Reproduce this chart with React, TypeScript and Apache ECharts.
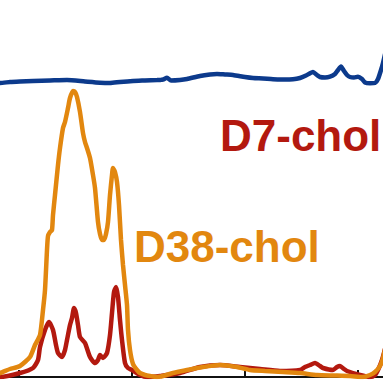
import React, { useEffect, useRef } from "react";
import * as echarts from "echarts";

// x: scan index, y: relative intensity (arbitrary units)
const xTicks = [0, 113, 226, 339, 452, 565];

const blueTrace: [number, number][] = [
  [89, 294], [94, 294], [104, 295], [114, 295.5], [127, 296], [144, 296.5], [161, 297],
  [179, 295.5], [194, 294.3], [204, 294], [214, 295], [227, 296], [239, 296.5], [251, 297],
  [257, 297.5], [261, 299.3], [265, 296.5], [274, 297], [281, 298], [294, 301], [304, 302.5],
  [311, 303], [319, 302.5], [327, 302], [339, 300], [347, 299], [357, 298.5], [367, 297.7],
  [377, 297.5], [387, 297.7], [394, 299], [400, 301.5], [407, 305], [411, 302], [414, 300],
  [419, 299.5], [424, 300.3], [429, 303], [432, 307], [435, 310.5], [438, 306], [441, 302],
  [444, 300], [448, 299.5], [452, 300.3], [456, 298], [459, 294.5], [464, 293.7], [469, 294],
  [472, 298], [475, 307], [477, 314], [480, 327],
];

const orangeTrace: [number, number][] = [
  [89, 3], [94, 4], [104, 8], [114, 11], [124, 20], [129, 32], [134, 42], [137, 67], [139, 87],
  [141, 127], [142, 141], [144, 145], [146, 147], [147, 162], [149, 182], [152, 212], [154, 229],
  [157, 249], [159, 255], [162, 269], [164, 279], [167, 286], [169, 285], [171, 280], [174, 265],
  [177, 244], [179, 235], [181, 229], [184, 219], [187, 202], [189, 189], [192, 155], [194, 143],
  [196, 137], [198, 137], [200, 143], [202, 155], [204, 182], [206, 202], [207, 209], [209, 205],
  [211, 195], [213, 172], [215, 137], [217, 112], [219, 92], [221, 72], [222, 47], [224, 27],
  [227, 13], [231, 7], [234, 4], [239, 2], [244, 1], [251, 0], [257, 1], [267, 4], [281, 7],
  [297, 10], [314, 12], [331, 10], [344, 7], [359, 6], [377, 5], [394, 4], [411, 2], [429, 1.5],
  [444, 1], [457, 0], [464, 2], [469, 5], [474, 11], [477, 19], [480, 32],
];

const redTrace: [number, number][] = [
  [89, 0], [94, 0], [114, 4], [127, 9], [132, 17], [134, 30], [139, 47], [143, 55], [147, 47],
  [150, 32], [152, 24], [156, 20], [159, 27], [161, 37], [164, 52], [166, 59], [168, 69],
  [170, 64], [172, 52], [174, 40], [179, 34], [184, 20], [189, 14], [192, 17], [194, 22],
  [197, 19], [201, 24], [204, 42], [206, 64], [208, 85], [210, 90], [212, 80], [214, 57],
  [216, 37], [219, 14], [222, 9], [226, 7], [234, 2], [241, 0], [254, 1], [274, 4], [294, 10],
  [314, 12], [334, 10], [354, 8], [374, 6], [394, 7], [399, 10], [404, 12], [409, 14], [414, 11],
  [417, 9], [427, 7], [431, 10], [434, 11], [438, 8], [441, 6], [454, 2], [464, 0], [469, 2],
  [472, 7], [476, 17], [480, 32],
];

const labelD7 = "D7-chol";
const labelD38 = "D38-chol";

const BLUE = "#0c3a8c";
const ORANGE = "#e2870f";
const RED = "#b3190f";

// the chart canvas is wider than the window; the reference is a crop of a larger figure
const OFFSET_LEFT = 94;
const CHART_W = 565;

export default function App() {
  const ref = useRef<HTMLDivElement>(null);
  useEffect(() => {
    if (!ref.current) return;
    const chart = echarts.init(ref.current, undefined, { renderer: "svg" });
    chart.setOption({
      animation: false,
      backgroundColor: "#ffffff",
      grid: { left: 0, right: 0, top: 0, bottom: 6, containLabel: false },
      xAxis: {
        type: "value",
        min: xTicks[0],
        max: xTicks[xTicks.length - 1],
        interval: 113,
        axisLine: { show: true, lineStyle: { color: "#111", width: 2 } },
        axisTick: { show: true, inside: true, length: 7, lineStyle: { color: "#111", width: 2 } },
        axisLabel: { show: false },
        splitLine: { show: false },
      },
      yAxis: {
        type: "value",
        min: 0,
        max: 377,
        show: false,
        splitLine: { show: false },
      },
      series: [
        {
          type: "line",
          data: redTrace,
          showSymbol: false,
          smooth: 0.2,
          lineStyle: { color: RED, width: 4.5 },
          z: 2,
        },
        {
          type: "line",
          data: orangeTrace,
          showSymbol: false,
          smooth: 0.2,
          lineStyle: { color: ORANGE, width: 4.5 },
          z: 3,
        },
        {
          type: "line",
          data: blueTrace,
          showSymbol: false,
          smooth: 0.2,
          lineStyle: { color: BLUE, width: 4.5 },
          z: 4,
        },
      ],
      graphic: [
        {
          type: "text",
          left: 220 + OFFSET_LEFT,
          top: 135.5 - 22,
          style: {
            text: labelD7,
            fill: RED,
            font: "bold 44px 'Liberation Sans', Arial, sans-serif",
          },
          z: 10,
        },
        {
          type: "text",
          left: 134 + OFFSET_LEFT,
          top: 246.5 - 22,
          style: {
            text: labelD38,
            fill: ORANGE,
            font: "bold 44px 'Liberation Sans', Arial, sans-serif",
          },
          z: 10,
        },
      ],
    });
    return () => chart.dispose();
  }, []);
  return (
    <div
      ref={ref}
      style={{
        position: "fixed",
        left: -OFFSET_LEFT,
        top: 0,
        width: CHART_W,
        height: 383,
        background: "#fff",
      }}
    />
  );
}
